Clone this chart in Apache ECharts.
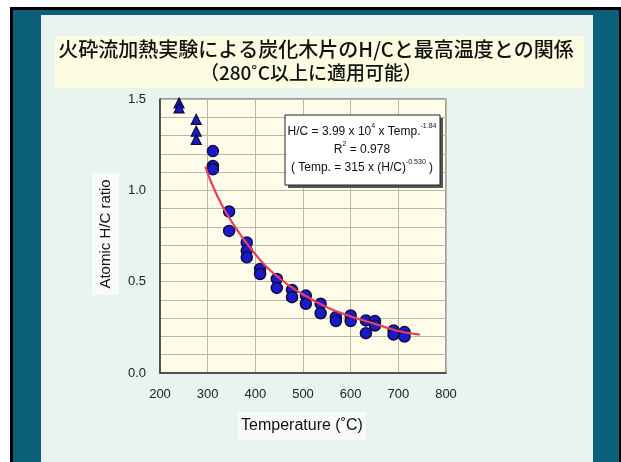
<!DOCTYPE html>
<html><head><meta charset="utf-8">
<script src="https://cdn.jsdelivr.net/npm/echarts@6/dist/echarts.min.js"></script>
<style>html,body{margin:0;padding:0;background:#fff}#c{width:621px;height:462px}</style>
</head><body><div id="c"></div>
<script>
const titleLine1 = '火砕流加熱実験による炭化木片のH/Cと最高温度との関係';
const titleLine2 = '（280˚C以上に適用可能）';
const xName = 'Temperature (˚C)';
const yName = 'Atomic H/C ratio';
const xTicks = [200, 300, 400, 500, 600, 700, 800];
const yTickLabels = ['0.0', '0.5', '1.0', '1.5'];

const triTemps  = [240, 240, 276, 276, 276];
const triRatios = [1.478, 1.451, 1.388, 1.324, 1.279];

const circleTemps  = [311, 311, 311, 345, 345, 382, 382, 382, 410, 410, 445, 445, 477, 477, 506, 506,
                      537, 537, 569, 569, 600, 600, 632, 632, 651, 651, 690, 690, 713, 713];
const circleRatios = [1.215, 1.133, 1.115, 0.884, 0.778, 0.715, 0.670, 0.633, 0.570, 0.542, 0.515, 0.466,
                      0.455, 0.415, 0.424, 0.379, 0.379, 0.327, 0.306, 0.284, 0.315, 0.284, 0.288, 0.218,
                      0.284, 0.260, 0.233, 0.211, 0.224, 0.200];

const fitTemps  = [295, 320, 350, 400, 450, 500, 550, 600, 650, 700, 745];
const fitRatios = [1.13, 0.97, 0.83, 0.65, 0.52, 0.43, 0.36, 0.31, 0.27, 0.23, 0.21];

const zip = (a, b) => a.map((v, i) => [v, b[i]]);
const font = '"Liberation Sans", Arial, sans-serif';
const cjk = '"Noto Sans CJK JP", sans-serif';

const chart = echarts.init(document.getElementById('c'), null, {renderer: 'canvas'});
chart.setOption({
  backgroundColor: '#ffffff',
  animation: false,
  grid: {left: 160, top: 99, right: 175, bottom: 89, show: true,
         backgroundColor: '#fffdea', borderColor: '#444', borderWidth: 1},
  xAxis: {type: 'value', min: xTicks[0], max: xTicks[xTicks.length - 1], interval: 100,
    axisLine: {show: true, onZero: false, lineStyle: {color: '#333', width: 1.5}},
    axisTick: {show: false},
    splitLine: {show: true, lineStyle: {color: '#b8b8ae', width: 1}},
    axisLabel: {color: '#222', fontSize: 13, fontFamily: font, margin: 15}},
  yAxis: {type: 'value', min: 0, max: 1.5, interval: 0.1,
    axisLine: {show: true, onZero: false, lineStyle: {color: '#333', width: 1.5}},
    axisTick: {show: false},
    splitLine: {show: true, lineStyle: {color: '#b8b8ae', width: 1}},
    axisLabel: {color: '#222', fontSize: 13, fontFamily: font, margin: 14,
      formatter: v => { const k = Math.round(v * 2); return Math.abs(v * 2 - k) < 1e-6 ? yTickLabels[k] : ''; }}},
  graphic: [
    {type: 'rect', z: -20, shape: {x: 10, y: 7, width: 611, height: 455}, style: {fill: '#000000'}},
    {type: 'rect', z: -19, shape: {x: 13, y: 10, width: 606, height: 452}, style: {fill: '#0b5f79'}},
    {type: 'rect', z: -18, shape: {x: 41, y: 15, width: 552, height: 447}, style: {fill: '#e9f3ef'}},
    {type: 'rect', z: -17, shape: {x: 55, y: 36, width: 529, height: 52}, style: {fill: '#fcfde0'}},
    {type: 'text', z: -16, x: 316, y: 49, style: {text: titleLine1, font: '500 20px ' + cjk, fill: '#111', align: 'center', verticalAlign: 'middle'}},
    {type: 'text', z: -16, x: 311, y: 73, style: {text: titleLine2, font: '500 19px ' + cjk, fill: '#111', align: 'center', verticalAlign: 'middle'}},
    {type: 'rect', z: -16, shape: {x: 92, y: 173, width: 27, height: 122}, style: {fill: '#f8fbf7'}},
    {type: 'text', z: -15, x: 106, y: 234, rotation: Math.PI / 2,
      style: {text: yName, font: '15px ' + font, fill: '#111', align: 'center', verticalAlign: 'middle'}},
    {type: 'rect', z: -16, shape: {x: 238, y: 412, width: 128, height: 28}, style: {fill: '#f8fbf7'}},
    {type: 'text', z: -15, x: 302, y: 426,
      style: {text: xName, font: '16px ' + font, fill: '#111', align: 'center', verticalAlign: 'middle'}},
    {type: 'rect', z: 20, shape: {x: 288, y: 118, width: 155, height: 70}, style: {fill: '#555'}},
    {type: 'rect', z: 21, shape: {x: 285, y: 115, width: 155, height: 70}, style: {fill: '#fff', stroke: '#222', lineWidth: 1}},
    {type: 'text', z: 22, x: 362, y: 150, style: {
      text: '{n|H/C = 3.99 x 10}{s|4}{n| x Temp.}{s|-1.84}\n{n|R}{s|2}{n| = 0.978}\n{n|( Temp. = 315 x (H/C)}{s|-0.530}{n| )}',
      align: 'center', verticalAlign: 'middle', fill: '#111',
      rich: {n: {fontSize: 12, fontFamily: font, lineHeight: 18, fill: '#111'},
             s: {fontSize: 7, fontFamily: font, lineHeight: 18, verticalAlign: 'top', fill: '#111'}}}}
  ],
  series: [
    {type: 'scatter', data: zip(triTemps, triRatios), symbol: 'triangle', symbolSize: [10, 10], z: 3,
      itemStyle: {color: '#1a1ac0', borderColor: '#0c0c40', borderWidth: 1.2, opacity: 1}},
    {type: 'scatter', data: zip(circleTemps, circleRatios), symbol: 'circle', symbolSize: 11, z: 3,
      itemStyle: {color: '#1a1acc', borderColor: '#0c0c40', borderWidth: 1.5, opacity: 1}},
    {type: 'line', data: zip(fitTemps, fitRatios), smooth: true, showSymbol: false, symbol: 'none', z: 4,
      lineStyle: {color: '#e8405c', width: 2.2}}
  ]
});
</script></body></html>
